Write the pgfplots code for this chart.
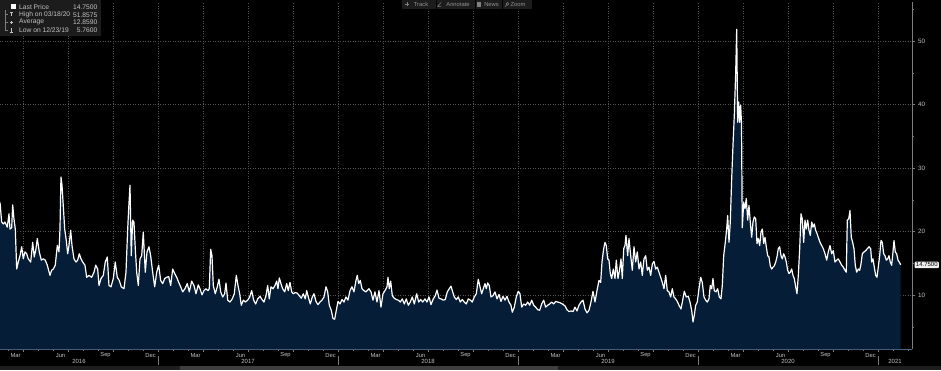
\documentclass[border=0pt]{standalone}
\usepackage{pgfplots}
\pgfplotsset{compat=1.18}
\usepackage{pgfplotstable}
\usepackage{fontspec}
\setmainfont{Liberation Sans}
\definecolor{areafill}{RGB}{6,29,56}
\definecolor{gridc}{RGB}{85,85,85}
\definecolor{axisblue}{RGB}{75,100,130}
\definecolor{axisgrey}{RGB}{125,125,125}
\definecolor{lbl}{RGB}{195,195,195}
\definecolor{legbg}{RGB}{28,28,28}
\definecolor{barlight}{RGB}{62,62,62}
\definecolor{bardark}{RGB}{30,30,30}

\pgfplotstableread{
px v
0 24.6
1.7 21.5
3.3 21.2
5 21.5
7.3 20.7
9 22.8
10 20.4
11.7 20.6
12.7 24.2
14 22.0
15.3 20.4
16.7 14.1
18.3 15.2
20 16.2
21.7 17.6
23.3 15.7
25 16.8
26.7 16.5
28.3 15.7
30.7 15.2
32.7 18.3
34.3 16.0
36 17.3
37.3 18.9
39.3 16.8
41.3 15.5
43.3 15.7
45.3 15.5
47.3 14.7
50 13.1
51.7 13.9
53.3 14.1
55.3 14.7
57.3 17.8
59 16.8
60 20.4
61 28.6
62 27.3
63.3 24.1
64.7 20.4
66.3 18.6
67.7 16.5
69 17.8
70.7 20.2
72 17.8
74 15.7
76 15.2
77.7 15.5
79.3 16.5
81 15.7
82.7 15.2
85 14.7
86.7 12.8
89 13.1
91.7 12.8
94 13.6
95.7 14.7
97.7 14.1
99 11.5
101 12.6
103.3 13.1
105.3 15.2
107.3 16.0
109 11.5
111 11.3
113.3 12.6
115.3 15.2
117.3 12.8
119.3 12.3
121.3 11.3
124 11.0
126 13.6
127.7 20.4
128.7 23.6
130 27.3
131.3 16.2
132.7 21.8
134 21.5
135.3 17.3
136.7 13.6
138.3 11.5
140 15.7
141.7 16.2
143.3 19.9
145.3 13.6
147 16.8
149 17.6
150.7 16.2
152.7 13.6
154.7 11.3
156.7 13.6
158.7 14.7
160.7 12.3
162.7 11.8
164.7 12.6
166.7 12.8
168.7 12.9
170.7 11.5
172.7 14.1
174.7 13.4
176.7 12.8
178.7 12.0
180.7 11.3
182.7 10.5
185 11.0
187.3 11.8
189.3 10.5
191.7 12.2
194 11.5
196 10.2
198.3 11.6
200 11.0
202 10.05
204 10.7
206 11.0
208 10.7
209.3 11.0
210.7 17.2
212 16.2
213.3 11.5
215.3 10.2
217.3 11.3
219 12.5
220.7 10.5
222.7 9.7
224.7 10.2
226 11.9
227.7 9.2
230 8.9
232.3 9.4
234.3 10.2
236.3 13.1
238 11.5
239.7 10.2
241.3 8.4
243.3 9.2
245.3 8.9
247.7 9.2
249.7 9.7
251.7 10.7
253.7 9.2
255.7 8.6
257.7 9.4
260 9.8
262 9.3
264 8.9
266 9.9
267.7 11.5
269.3 9.4
271 11.3
273 11.0
275 11.5
276.7 12.2
278 11.0
279.3 12.7
281 11.8
282.7 11.0
284.7 10.5
286.7 11.8
288.3 10.7
290 12.0
291.7 10.5
293.3 10.2
295.3 10.4
297.3 10.3
299.3 9.9
301.3 9.5
303.3 10.2
305.3 9.4
306.7 10.7
308.3 9.7
310.3 8.6
312.3 9.7
314 10.2
316 9.0
318 8.5
320 8.9
322 9.2
324 9.7
326 11.3
327.7 10.5
329.3 8.4
331.3 7.6
333 6.3
334.7 6.2
336.3 7.6
338 9.0
340 8.6
342 9.3
344 8.9
346 9.7
348 9.2
350 10.7
352 11.3
354 10.5
356 12.3
357.3 13.1
358.7 11.8
360.3 12.3
362 11.0
364 10.7
366 10.5
369 11.0
371 10.5
373 9.2
375 10.5
377 8.9
379 10.7
381 8.1
383 10.2
385 10.7
387 11.3
388 12.8
389.3 11.0
390.7 12.2
392.3 9.9
394.3 9.5
396.3 9.3
398.3 9.2
400.3 8.9
402.3 9.4
404.3 8.6
406.3 9.4
408.3 8.4
410.3 8.9
412.3 9.7
414.3 8.6
416.7 10.2
418.7 8.9
420.7 9.3
422.7 8.9
425 9.4
427 8.9
429 9.7
431 8.5
433.3 9.4
435.3 9.9
437 10.8
439 9.5
441 9.4
443.3 9.2
445.3 9.3
447.3 10.5
449.3 11.0
451 11.4
452.7 10.5
454.3 9.7
456.3 9.3
458.3 9.7
460.3 8.9
462.3 9.3
464.3 8.9
466.3 8.6
468.3 9.4
470.3 9.2
472.3 8.9
474.3 9.7
476.3 10.2
478.3 12.5
480 11.3
481.7 10.2
483.3 11.0
485 11.8
486.3 11.0
487.7 11.9
489.3 11.5
491 9.7
493 9.9
495 10.5
497 9.4
499 10.1
501 9.0
503 9.8
505 9.2
507 9.8
509 8.9
511 8.4
512.3 7.3
514.3 8.1
516.3 9.7
518.3 10.6
520 10.2
521.7 8.1
523.7 8.6
525.7 8.4
527.7 8.9
529.7 8.4
531.7 9.2
533.7 8.4
535.7 8.1
537.7 7.7
539.7 7.6
541.7 8.6
543.7 9.2
545.7 8.1
547.7 8.4
549.7 8.6
551.7 8.9
553.7 8.6
555.7 9.0
557.7 8.9
560 8.8
562.3 8.6
565 8.3
567 7.7
569 7.4
571 7.5
573 7.4
575 8.1
577 7.5
579 8.4
581 8.9
583 9.2
585 7.8
587 7.2
589 7.6
591 8.9
593 10.6
595 8.9
597 10.7
599 12.3
600.7 12.0
602 15.2
603.7 17.3
605 18.3
606.3 17.8
607.7 15.7
609 15.5
610.3 13.4
611.7 12.6
613.3 14.1
615 12.6
616.3 15.5
618 12.6
619.7 14.1
621 15.7
622.3 12.6
623.7 17.3
625 17.8
626 19.4
627.7 16.2
629 18.9
630.7 16.2
632.3 13.9
634 17.6
635.7 15.2
637.3 16.8
639 14.1
640.7 15.2
642.3 13.1
644 15.7
645.7 16.2
647.3 13.9
649 14.4
650.7 13.1
652.3 14.9
654 15.3
655.7 14.1
657.3 14.4
659 13.6
660.7 12.8
662.3 12.0
664 11.0
665.7 13.1
667.3 10.7
669 10.5
670.7 9.7
672.3 11.0
674 9.7
675.7 9.4
677.3 9.0
679 8.4
681 7.8
682.7 9.2
684.3 10.6
686.3 9.7
688.3 9.8
690 8.9
691.7 7.6
693 5.76
694.3 6.8
695.7 8.4
697.3 8.9
699 11.0
700.7 12.8
702.3 12.0
704 9.7
705.7 9.2
707.3 8.9
709 9.4
710.3 11.5
711.7 11.0
713 12.6
714.3 10.7
716 10.5
717.7 11.0
719.3 9.7
721 9.4
722.3 11.5
723.7 16.2
725.3 18.3
726.7 20.4
727.7 22.5
729 18.3
730.3 21.5
731.7 28.3
733 33.6
734.3 38.3
735.7 45.1
736.7 51.8575
737.7 37.2
738.7 40.4
739.7 37.2
740.7 39.9
741.5 37.0
742.3 20.6
743.7 24.6
745 23.6
746.3 25.2
747.7 21.8
749 24.1
750.3 21.5
751.7 19.1
753 21.5
754.3 22.3
755.7 22.0
757 18.1
758.3 18.9
759.7 17.8
761 19.9
762.3 20.4
763.7 18.1
765 19.1
766.3 17.6
767.7 16.2
769 16.0
770.3 14.6
771.7 14.1
773 14.4
774.3 14.6
775.7 15.2
777 16.0
778.3 17.3
779.7 17.6
781 16.2
782.3 15.7
783.7 16.5
785 16.0
786.3 15.2
787.7 13.9
789 13.4
790.3 13.6
791.7 14.1
793 13.1
794.3 12.6
795.7 11.3
797 10.2
798.3 13.1
799.7 17.3
801 22.8
802.3 22.0
803.7 18.3
805 21.8
806.3 20.4
807.7 21.8
809 20.2
810.3 19.4
811.7 21.5
813 20.7
814.3 21.2
815.7 20.2
817 19.7
818.3 19.1
820 18.3
821.7 17.8
823.3 17.3
825 16.5
826.7 15.5
828.3 16.8
830 17.8
831.7 16.5
833.3 17.0
835 15.2
836.7 15.5
838.3 15.7
840 15.2
841.7 14.7
843.3 14.4
845 13.9
846.3 13.6
847.3 21.8
848.7 22.0
850 23.3
851.3 19.1
852.7 18.3
854 17.3
855.3 14.7
856.7 13.6
858.3 14.1
859.7 13.9
861 14.9
862.3 16.5
864 16.8
865.7 17.0
867.3 17.3
869 17.6
870.7 17.3
871.7 15.2
873 15.7
874.3 14.4
875.7 13.1
877 12.8
878.3 14.4
879.7 16.2
881 18.6
882.3 18.3
883.7 16.5
885 16.2
886.3 15.5
887.7 15.7
889 16.2
890.3 15.2
891.7 14.7
893 16.8
894 18.6
895.3 16.8
896.7 16.5
898 15.5
899.3 15.2
900.7 14.75
}\seriesdata

\begin{document}
\begin{tikzpicture}[x=1pt,y=1pt]
\useasboundingbox (0,0) rectangle (941,370);
\fill[black] (0,0) rectangle (941,370);
\fill[bardark] (0,0) rectangle (941,4);
\fill[barlight] (180,0) rectangle (558,4);
\begin{axis}[
  at={(0,33)}, anchor=south west,
  scale only axis, width=912pt, height=347pt,
  xmin=2016.122, xmax=2021.1887,
  ymin=1.5, ymax=56.14,
  axis x line*=bottom, axis y line*=right,
  x axis line style={draw=axisblue, line width=0.8pt},
  y axis line style={draw=axisgrey, line width=0.8pt},
  xtick={2016.25,2016.5,2016.75,2017,2017.25,2017.5,2017.75,2018,2018.25,2018.5,2018.75,2019,2019.25,2019.5,2019.75,2020,2020.25,2020.5,2020.75,2021},
  xticklabels={Mar,Jun,Sep,Dec,Mar,Jun,Sep,Dec,Mar,Jun,Sep,Dec,Mar,Jun,Sep,Dec,Mar,Jun,Sep,Dec},
  minor xtick={2016.1667,2016.3333,2016.4167,2016.5833,2016.6667,2016.8333,2016.9167,
    2017.0833,2017.1667,2017.3333,2017.4167,2017.5833,2017.6667,2017.8333,2017.9167,
    2018.0833,2018.1667,2018.3333,2018.4167,2018.5833,2018.6667,2018.8333,2018.9167,
    2019.0833,2019.1667,2019.3333,2019.4167,2019.5833,2019.6667,2019.8333,2019.9167,
    2020.0833,2020.1667,2020.3333,2020.4167,2020.5833,2020.6667,2020.8333,2020.9167,
    2021.0833,2021.1667},
  ytick={10,20,30,40,50},
  minor ytick={5,15,25,35,45,55},
  xmajorgrids=true, ymajorgrids=true,
  major grid style={draw=gridc, dash pattern=on 0.8pt off 1.7pt, line width=0.5pt},
  tick align=outside,
  major tick length=2.5pt, minor tick length=2pt,
  tick style={draw=axisgrey, line width=0.5pt},
  /pgf/number format/assume math mode=true,
  xticklabel style={font=\fontsize{5.8}{6}\selectfont, text=lbl, anchor=center, xshift=-7.5pt, yshift=-4pt},
  yticklabel style={font=\fontsize{6.3}{7}\selectfont, text=lbl, anchor=west},
  clip mode=individual,
  no markers,
]
\addplot[draw=none, fill=areafill] table[x expr=2016.122+\thisrow{px}/180, y=v]{\seriesdata} \closedcycle;
\addplot[draw=white, line width=1.2pt, line join=round] table[x expr=2016.122+\thisrow{px}/180, y=v]{\seriesdata};
\node[fill=white!88!gray, text=black, font=\fontsize{6}{7}\selectfont, inner sep=1.2pt, anchor=west, rounded corners=1pt, xshift=2.5pt] at (axis cs:2021.1887,14.75) {14.7500};
\end{axis}
% year row
\foreach \xx/\yr in {79/2016,248/2017,428/2018,608/2019,788/2020,895/2021}
  \node[text=lbl, font=\fontsize{6}{7}\selectfont] at (\xx,9) {\yr};
\foreach \xx in {158,338,518,698,878}
  \draw[axisgrey, line width=0.5pt] (\xx,5) -- (\xx,14);
% legend box
\fill[legbg] (0,334) rectangle (101,370);
\fill[white] (11,361) rectangle (15.5,365.5);
\draw[axisgrey, line width=0.4pt] (5,360) -- (5,339.5);
\foreach \yy in {355.3,347.7,339.5} \draw[axisgrey, line width=0.4pt] (5,\yy) -- (7.5,\yy);
\draw[lbl, line width=0.5pt] (10,357.5) -- (13,357.5) (11.5,357.5) -- (11.5,353.5);
\draw[lbl, line width=0.5pt] (9.8,347.7) -- (13.2,347.7) (11.5,346.3) -- (11.5,349.1);
\draw[lbl, line width=0.5pt] (10,337.5) -- (13,337.5) (11.5,337.5) -- (11.5,341.5);
\begin{scope}[every node/.style={text=lbl, font=\fontsize{6.7}{7}\selectfont, inner sep=0pt}]
\node[anchor=west] at (19,363.3) {Last Price};
\node[anchor=east] at (97.5,363.3) {14.7500};
\node[anchor=west] at (19,355.3) {High on 03/18/20};
\node[anchor=east] at (97.5,355.3) {51.8575};
\node[anchor=west] at (19,347.7) {Average};
\node[anchor=east] at (97.5,347.7) {12.8590};
\node[anchor=west] at (19,339.5) {Low on 12/23/19};
\node[anchor=east] at (97.5,339.5) {5.7600};
\end{scope}
% toolbar
\fill[legbg] (402,361) rectangle (436,370);
\fill[legbg] (437,361) rectangle (475,370);
\fill[legbg] (476,361) rectangle (502,370);
\fill[legbg] (503,361) rectangle (532,370);
\begin{scope}[every node/.style={text=gray!85!white, font=\fontsize{5.8}{6}\selectfont, inner sep=0pt}]
\node at (421,365.5) {Track};
\node at (458,365.5) {Annotate};
\node at (491.5,365.5) {News};
\node at (518,365.5) {Zoom};
\end{scope}
\draw[gray, line width=0.5pt] (405,365.5) -- (409,365.5) (407,363.5) -- (407,367.5);
\draw[gray, line width=0.5pt] (437.5,363.3) -- (441,367.5) (437.5,363.3) -- (441,363.3);
\fill[gray] (477,363.3) rectangle (481,367.5);
\draw[gray, line width=0.5pt] (507.5,366.2) circle (1.4pt) (506.5,365.2) -- (505,363.2);
\end{tikzpicture}
\end{document}
